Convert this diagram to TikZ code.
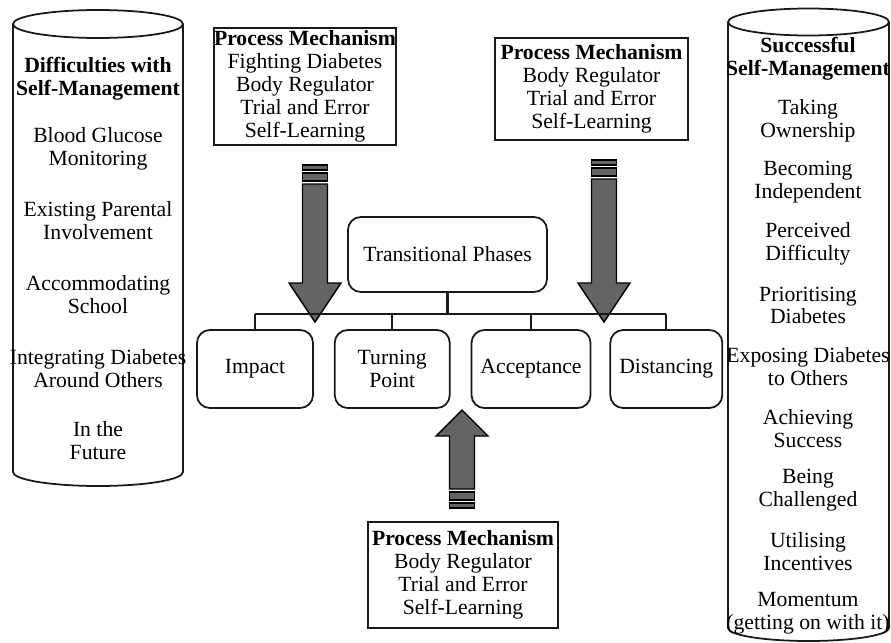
\documentclass[tikz,border=0pt]{standalone}
\usepackage{fontspec}
\setmainfont{Liberation Serif}
\usepackage{tikz}
\usetikzlibrary{positioning, calc}
\definecolor{arrowgrey}{RGB}{100,100,100}
\definecolor{inkdark}{RGB}{25,25,25}
\newcommand{\listfont}{\fontsize{18.5pt}{19.5pt}\selectfont}

\begin{document}
\begin{tikzpicture}[
    x=0.03cm, y=-0.03cm,
    node distance=0.6cm,
    mechBox/.style={draw=inkdark, line width=2pt, align=center, inner sep=0pt, font=\listfont},
    phaseBox/.style={draw=inkdark, line width=1.5pt, rounded corners=11pt, align=center, inner sep=0pt, font=\listfont, minimum height=2.34cm},
    cylLine/.style={draw=inkdark, line width=1.5pt},
    listText/.style={align=center, inner sep=0pt, font=\listfont},
    treeLine/.style={draw=inkdark, line width=1.9pt},
    pics/stripedarrow/.style 2 args={code={
        \draw[fill=arrowgrey, line width=1.2pt] (-12.5,0) rectangle (12.5,5);
        \draw[fill=arrowgrey, line width=1.2pt] (-12.5,8) rectangle (12.5,16);
        \draw[fill=arrowgrey, line width=1.2pt, line join=miter] (-12.5,19) -- (-12.5,{#1-#2}) -- (-26,{#1-#2}) -- (0,#1) -- (26,{#1-#2}) -- (12.5,{#1-#2}) -- (12.5,19) -- cycle;
    }}
]
\useasboundingbox[fill=white] (0,0) rectangle (891,643);

% Left cylinder
\draw[cylLine] (98,24) ellipse [x radius=85, y radius=14];
\draw[cylLine] (13,24) -- (13,472) arc[start angle=180, end angle=0, x radius=85, y radius=14] -- (183,24);
\node[listText, font=\listfont\bfseries] (diffTitle) at (98,78.5) {Difficulties with\\Self-Management};
\node[listText] (diffA) at (98,148.5) {Blood Glucose\\Monitoring};
\node[listText] (diffB) at (98,220.5) {Existing Parental\\Involvement};
\node[listText] (diffC) at (98,294.5) {Accommodating\\School};
\node[listText] (diffD) at (98,368.5) {Integrating Diabetes\\Around Others};
\node[listText] (diffE) at (98,441) {In the\\Future};

% Right cylinder
\draw[cylLine] (808.5,22) ellipse [x radius=80.5, y radius=13.5];
\draw[cylLine] (728,22) -- (728,628) arc[start angle=180, end angle=0, x radius=80.5, y radius=13] -- (889,22);
\node[listText, font=\listfont\bfseries] (succTitle) at (808,59) {Successful\\Self-Management};
\node[listText] (succA) at (808,121) {Taking\\Ownership};
\node[listText] (succB) at (808,182.5) {Becoming\\Independent};
\node[listText] (succC) at (808,244) {Perceived\\Difficulty};
\node[listText] (succD) at (808,305.5) {Prioritising\\Diabetes};
\node[listText] (succE) at (808,367) {Exposing Diabetes\\to Others};
\node[listText] (succF) at (808,428.5) {Achieving\\Success};
\node[listText] (succG) at (808,490) {Being\\Challenged};
\node[listText] (succH) at (808,551.5) {Utilising\\Incentives};
\node[listText] (succI) at (808,613) {Momentum\\(getting on with it)};

% Process mechanism boxes
\node[mechBox, minimum width=5.22cm, minimum height=3.51cm] (mechLeft) at (305,86.5)
    {\textbf{Process Mechanism}\\Fighting Diabetes\\Body Regulator\\Trial and Error\\Self-Learning};
\node[mechBox, minimum width=5.79cm, minimum height=3.06cm] (mechRight) at (591.5,89)
    {\textbf{Process Mechanism}\\Body Regulator\\Trial and Error\\Self-Learning};
\node[mechBox, minimum width=5.70cm, minimum height=3.18cm] (mechBottom) at (463,575)
    {\textbf{Process Mechanism}\\Body Regulator\\Trial and Error\\Self-Learning};

% Block arrows
\pic at (315,165) {stripedarrow={157}{39}};
\pic at (604,160) {stripedarrow={162}{39}};
\pic[yscale=-1] at (462,508) {stripedarrow={98}{26}};

% Phases
\node[phaseBox, minimum width=5.97cm, minimum height=2.25cm] (trans) at (447.5,254.5) {Transitional Phases};
\node[phaseBox, minimum width=3.48cm] (impact) at (255,369) {Impact};
\node[phaseBox, minimum width=3.45cm, right=of impact] (turning) {Turning\\Point};
\node[phaseBox, minimum width=3.57cm, right=of turning] (accept) {Acceptance};
\node[phaseBox, minimum width=3.36cm, right=0.54cm of accept] (distance) {Distancing};

\draw[treeLine] (trans.south) -- ++(0,21) coordinate (hub);
\draw[treeLine] (impact.north |- hub) -- (distance.north |- hub);
\draw[treeLine] (impact.north) -- (impact.north |- hub);
\draw[treeLine] (turning.north) -- (turning.north |- hub);
\draw[treeLine] (accept.north) -- (accept.north |- hub);
\draw[treeLine] (distance.north) -- (distance.north |- hub);

\end{tikzpicture}
\end{document}
